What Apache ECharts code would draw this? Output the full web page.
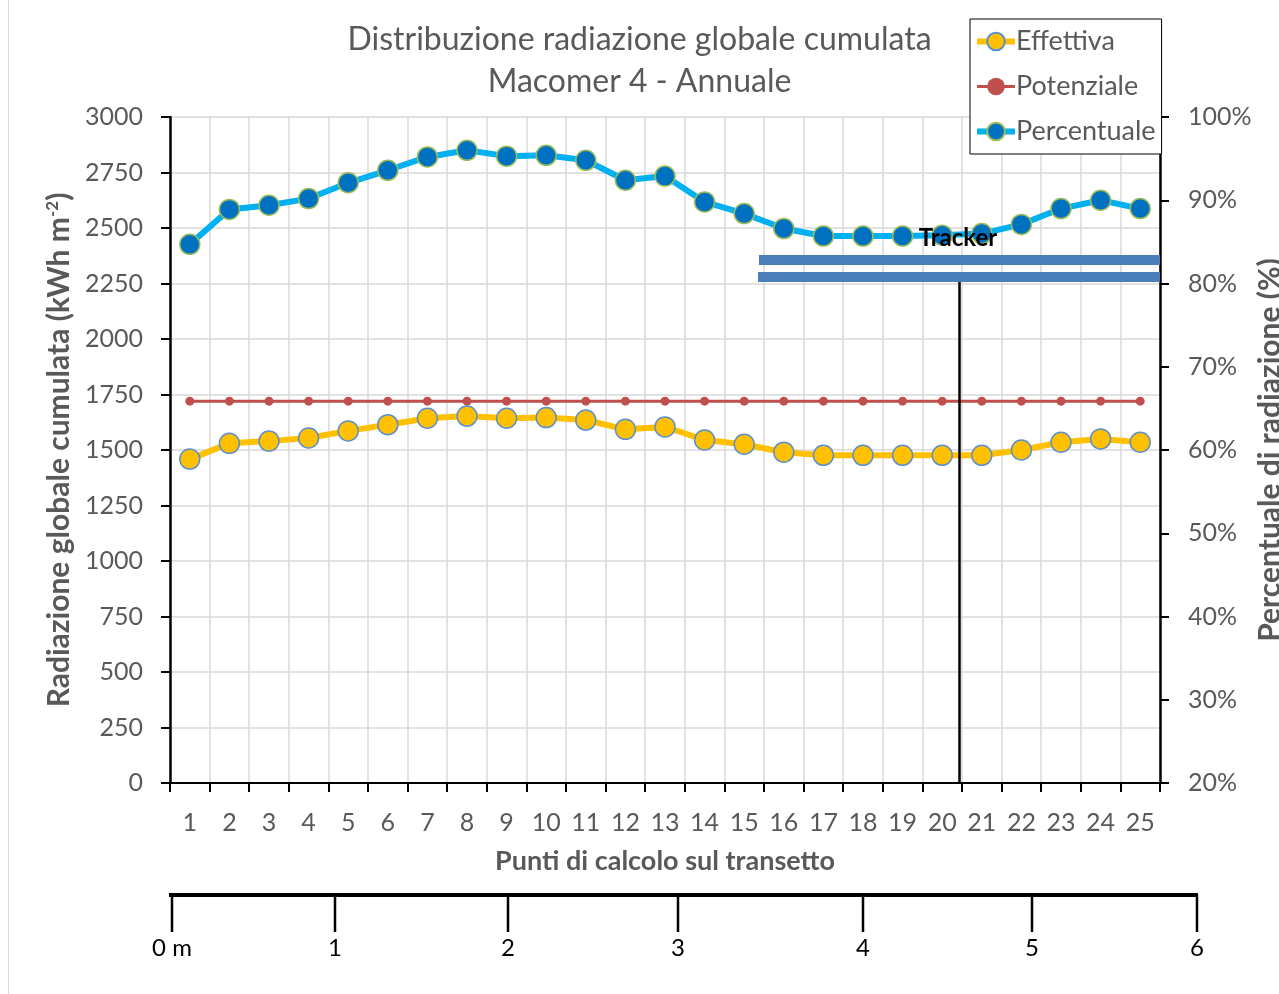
<!DOCTYPE html>
<html><head><meta charset="utf-8">
<script src="https://cdn.jsdelivr.net/npm/echarts@6/dist/echarts.min.js"></script>
<style>html,body{margin:0;padding:0;background:#fff}#c{width:1279px;height:994px}</style>
</head><body><div id="c"></div>
<script>
// ---- data ----
const categories = ['1','2','3','4','5','6','7','8','9','10','11','12','13','14','15','16','17','18','19','20','21','22','23','24','25'];
const effettiva = [1459,1530,1540,1554,1586,1614,1643,1653,1643,1646,1635,1593,1604,1545,1526,1490,1476,1476,1476,1476,1476,1500,1535,1550,1535];
const potenziale = [1720,1720,1720,1720,1720,1720,1720,1720,1720,1720,1720,1720,1720,1720,1720,1720,1720,1720,1720,1720,1720,1720,1720,1720,1720];
const percentuale = [84.7,88.9,89.4,90.2,92.1,93.6,95.2,96.0,95.3,95.4,94.8,92.4,92.9,89.8,88.4,86.6,85.7,85.7,85.7,85.8,86.0,87.1,89.0,90.0,89.0];
const titleLines = ['Distribuzione radiazione globale cumulata', 'Macomer 4 - Annuale'];
const rulerLabels = ['0 m','1','2','3','4','5','6'];
const trackerLabel = 'Tracker';

// ---- layout constants ----
const FONT = 'Lato';
const GRAY = '#595959';
const G = {left:170, right:119, top:117, bottom:211};
const rulerX = [172,335,508,678,863,1032,1197];

const chart = echarts.init(document.getElementById('c'));

const graphic = [
  {type:'line', z:100, shape:{x1:8.5,y1:0,x2:8.5,y2:994}, style:{stroke:'#d9d9d9', lineWidth:1}},
  // tracker
  {type:'rect', z:100, shape:{x:759,y:255,width:401,height:10}, style:{fill:'#4a7ebb'}},
  {type:'rect', z:100, shape:{x:758,y:272,width:402,height:10}, style:{fill:'#4a7ebb'}},
  {type:'line', z:100, shape:{x1:959.5,y1:282,x2:959.5,y2:783}, style:{stroke:'#000', lineWidth:2.5}},
  {type:'text', z:101, x:958, y:238, style:{text:trackerLabel, font:'bold 24px '+FONT, fill:'#000', align:'center', verticalAlign:'middle'}},
  // ruler
  {type:'line', z:100, shape:{x1:169,y1:895,x2:1198,y2:895}, style:{stroke:'#000', lineWidth:4}}
];
rulerX.forEach((x,i)=>{
  graphic.push({type:'line', z:100, shape:{x1:x,y1:895,x2:x,y2:932}, style:{stroke:'#000', lineWidth:2.5}});
  graphic.push({type:'text', z:100, x:x, y:948, style:{text:rulerLabels[i], font:'24px '+FONT, fill:'#000', align:'center', verticalAlign:'middle'}});
});

chart.setOption({
  animation:false,
  backgroundColor:'#fff',
  textStyle:{fontFamily:FONT},
  title:{
    text:titleLines.join('\n'),
    left:'center', top:14,
    textStyle:{fontFamily:FONT, fontSize:32, fontWeight:'normal', color:GRAY, lineHeight:42}
  },
  legend:{
    orient:'vertical', left:970, top:19,
    backgroundColor:'#fff', borderColor:'#000', borderWidth:1,
    padding:[9,6,9,4], itemGap:18, itemWidth:38, itemHeight:22,
    textStyle:{fontFamily:FONT, fontSize:27, color:GRAY, padding:[0,0,0,-4]},
    data:[
      {name:'Effettiva', lineStyle:{width:6}},
      {name:'Potenziale', lineStyle:{width:3}},
      {name:'Percentuale', lineStyle:{width:6}}
    ]
  },
  grid:{left:G.left, right:G.right, top:G.top, bottom:G.bottom, containLabel:false, outerBoundsMode:'none'},
  xAxis:{
    type:'category', data:categories, boundaryGap:true,
    name:'Punti di calcolo sul transetto', nameLocation:'middle', nameGap:65,
    nameTextStyle:{fontFamily:FONT, fontSize:27, fontWeight:'bold', color:GRAY},
    axisLine:{lineStyle:{color:'#000', width:2}},
    axisTick:{show:true, interval:0, length:9, lineStyle:{color:'#000', width:2}},
    axisLabel:{interval:0, margin:27, fontFamily:FONT, fontSize:25, color:GRAY},
    splitLine:{show:true, interval:0, lineStyle:{color:'#d9d9d9', width:1.5}}
  },
  yAxis:[{
    type:'value', min:0, max:3000, interval:250, position:'left',
    name:'Radiazione globale cumulata (kWh m{sup|-2})', nameLocation:'middle', nameGap:93,
    nameTextStyle:{fontFamily:FONT, fontSize:30, fontWeight:'bold', color:GRAY,
      rich:{sup:{fontFamily:FONT, fontSize:17, fontWeight:'bold', color:GRAY, verticalAlign:'top', padding:[0,0,14,0]}}},
    axisLine:{show:true, lineStyle:{color:'#000', width:2.5}},
    axisTick:{show:true, length:9, lineStyle:{color:'#000', width:2}},
    axisLabel:{margin:27, fontFamily:FONT, fontSize:25, color:GRAY, formatter:function(v){return String(v);}},
    splitLine:{show:true, lineStyle:{color:'#d9d9d9', width:1.5}}
  },{
    type:'value', min:20, max:100, interval:10, position:'right',
    name:'Percentuale di radiazione (%)', nameLocation:'middle', nameGap:95, nameMoveOverlap:false,
    nameTextStyle:{fontFamily:FONT, fontSize:30, fontWeight:'bold', color:GRAY},
    axisLine:{show:true, lineStyle:{color:'#000', width:2.5}},
    axisTick:{show:true, length:9, lineStyle:{color:'#000', width:2}},
    axisLabel:{margin:28, fontFamily:FONT, fontSize:25, color:GRAY, formatter:'{value}%'},
    splitLine:{show:false}
  }],
  series:[
    {name:'Effettiva', type:'line', yAxisIndex:0, data:effettiva,
      symbol:'circle', symbolSize:20, z:3,
      lineStyle:{color:'#ffc000', width:6},
      itemStyle:{color:'#ffc000', borderColor:'#5b8fd0', borderWidth:1.5}},
    {name:'Potenziale', type:'line', yAxisIndex:0, data:potenziale,
      symbol:'circle', symbolSize:9, z:2,
      lineStyle:{color:'#c0504d', width:3},
      itemStyle:{color:'#c0504d', borderWidth:0}},
    {name:'Percentuale', type:'line', yAxisIndex:1, data:percentuale,
      symbol:'circle', symbolSize:20, z:4,
      lineStyle:{color:'#00b0f0', width:6},
      itemStyle:{color:'#0070c0', borderColor:'#9bbb59', borderWidth:1.5}}
  ],
  graphic:graphic
});
</script></body></html>
